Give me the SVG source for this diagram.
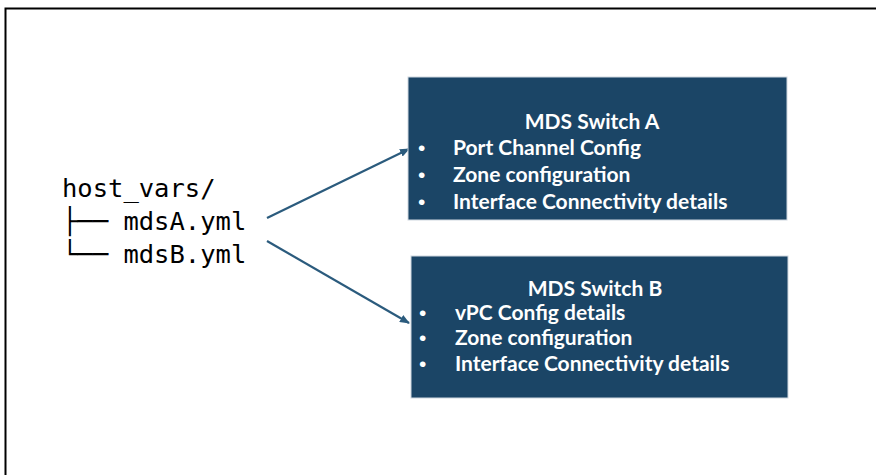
<svg xmlns="http://www.w3.org/2000/svg" width="876" height="475" viewBox="0 0 876 475">
<style>
.mono{font-family:"DejaVu Sans Mono","Liberation Mono",monospace;font-size:25.5px;fill:#000}
.box{fill:#1b4566;stroke:#d0d8e0;stroke-width:1}
.t{font-family:Lato,"Open Sans","Liberation Sans",sans-serif;font-weight:bold;font-size:21px;fill:#fff}
.b{font-family:"Liberation Sans",sans-serif;font-size:21px;fill:#fff}
.title{text-anchor:middle}
.conn{stroke:#2b5b7d;stroke-width:2.2;fill:none}
</style>
<defs>
<marker id="ah" markerWidth="10" markerHeight="8" refX="9" refY="4" orient="auto" markerUnits="userSpaceOnUse">
<path d="M0,0 L10,4 L0,8 Z" fill="#2b5b7d"/>
</marker>
</defs>
<rect x="0" y="0" width="876" height="475" fill="#fff"/>
<path d="M5.5,475 V8.5 H876" fill="none" stroke="#000" stroke-width="2"/>
<g id="tree">
<text class="mono" x="62" y="197">host_vars/</text>
<text class="mono" x="62" y="230">├── mdsA.yml</text>
<text class="mono" x="62" y="263">└── mdsB.yml</text>
</g>
<g id="connectors">
<line class="conn" x1="267" y1="218" x2="409" y2="149" marker-end="url(#ah)"/>
<line class="conn" x1="267" y1="241" x2="409" y2="323" marker-end="url(#ah)"/>
</g>
<g id="switchA">
<rect class="box" x="408" y="77" width="379" height="143"/>
<text class="t title" x="592" y="129">MDS Switch A</text>
<text class="b" x="418" y="155">•</text><text class="t" x="453" y="155">Port Channel Config</text>
<text class="b" x="418" y="182">•</text><text class="t" x="453" y="182">Zone configuration</text>
<text class="b" x="418" y="209">•</text><text class="t" x="453" y="209">Interface Connectivity details</text>
</g>
<g id="switchB">
<rect class="box" x="411" y="256" width="377" height="142"/>
<text class="t title" x="595" y="296">MDS Switch B</text>
<text class="b" x="419" y="320">•</text><text class="t" x="455" y="320">vPC Config details</text>
<text class="b" x="419" y="345">•</text><text class="t" x="455" y="345">Zone configuration</text>
<text class="b" x="419" y="371">•</text><text class="t" x="455" y="371">Interface Connectivity details</text>
</g>
</svg>
